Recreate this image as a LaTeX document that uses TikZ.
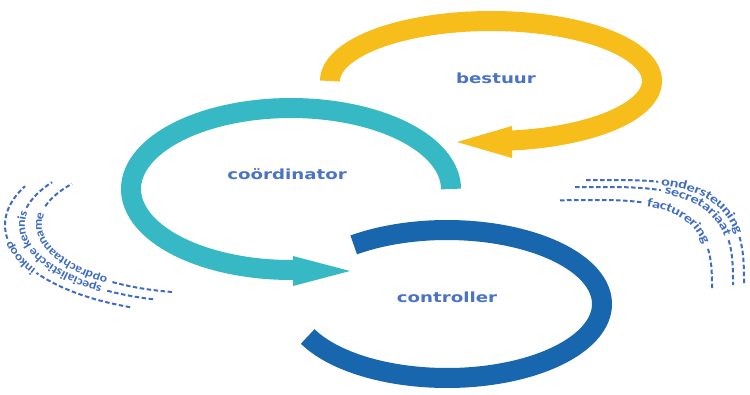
\documentclass[tikz,border=0pt]{standalone}
\usepackage{fontspec}
\usetikzlibrary{decorations.text}
\newfontfamily\lblfont[FakeStretch=1.3]{DejaVu Sans}
\newfontfamily\rlab[FakeStretch=1.3]{Carlito}
\newfontfamily\llab[FakeStretch=1.15]{Carlito}
\definecolor{ringyellow}{HTML}{F6BD1B}
\definecolor{ringteal}{HTML}{36B9C5}
\definecolor{ringblue}{HTML}{1766AE}
\definecolor{txtblue}{HTML}{4A72C6}
\definecolor{dashblue}{HTML}{3F6CC2}
\def\spow#1{sign(#1)*pow(abs(#1)+0.00001,0.6667)}
\begin{document}
\begin{tikzpicture}[x=1pt,y=-1pt,
  ring/.style={line width=20pt},
  dashline/.style={dashblue, line width=2pt, dash pattern=on 4.5pt off 2.5pt},
  ringlabel/.style={text=txtblue, font=\lblfont\bfseries\fontsize{14}{16}\selectfont, anchor=base, inner sep=0pt},
  ]
\useasboundingbox (0,0) rectangle (750,394);

% yellow ring (bestuur)
\draw[ring, ringyellow] plot[domain=180:443, samples=120, variable=\t] ({491+161*cos(\t)},{81+60*sin(\t)});
\fill[ringyellow] (512,126) -- (457,142) -- (512,158) -- cycle;

% teal ring (coordinator)
\draw[ring, ringteal] plot[domain=0:-271.4, samples=120, variable=\t] ({291+160*cos(\t)},{189+81*sin(\t)});
\fill[ringteal] (293,256) -- (350,271) -- (293,286) -- cycle;

% blue ring (controller)
\draw[ring, ringblue] plot[domain=233:514, samples=140, variable=\t] ({447+155*cos(\t)},{304+74*sin(\t)});

% labels
\node[ringlabel] (bestuur) at (496,83) {bestuur};
\node[ringlabel] (coordinator) at (287,179) {coördinator};
\node[ringlabel] (controller) at (447,302) {controller};

% left dashed arcs
% inner
\draw[dashline] plot[domain=100:123, samples=30, variable=\t] ({200+161*cos(\t)},{225+68*sin(\t)});
\path[decorate, decoration={text along path, text align=center, raise=-3pt,
  text={|\llab\bfseries\fontsize{12}{14}\selectfont\color{dashblue}|opdrachtaanname}}]
  plot[domain=121:198, samples=60, variable=\t] ({200+161*cos(\t)},{225+68*sin(\t)});
\draw[dashline] plot[domain=196:217.3, samples=30, variable=\t] ({200+161*cos(\t)},{225+68*sin(\t)});
% middle
\draw[dashline] plot[domain=105.3:122, samples=30, variable=\t] ({200+178*cos(\t)},{225+77*sin(\t)});
\path[decorate, decoration={text along path, text align=center, raise=-3pt,
  text={|\llab\bfseries\fontsize{12}{14}\selectfont\color{dashblue}|specialistische kennis}}]
  plot[domain=121:195, samples=60, variable=\t] ({200+178*cos(\t)},{225+77*sin(\t)});
\draw[dashline] plot[domain=193:213.8, samples=30, variable=\t] ({200+178*cos(\t)},{225+77*sin(\t)});
% outer
\draw[dashline] plot[domain=111:147, samples=40, variable=\t] ({200+195*cos(\t)},{225+88*sin(\t)});
\path[decorate, decoration={text along path, text align=center, raise=-3pt,
  text={|\llab\bfseries\fontsize{12}{14}\selectfont\color{dashblue}|inkoop}}]
  plot[domain=146:172, samples=30, variable=\t] ({200+195*cos(\t)},{225+88*sin(\t)});
\draw[dashline] plot[domain=171:206.2, samples=30, variable=\t] ({200+195*cos(\t)},{225+88*sin(\t)});

% right dashed arcs
% inner
\draw[dashline] plot[domain=-97:-74, samples=30, variable=\t] ({590+122*\spow{cos(\t)}},{290+90*\spow{sin(\t)}});
\path[decorate, decoration={text along path, text align=center, raise=-3pt,
  text={|\rlab\bfseries\fontsize{12.5}{15}\selectfont\color{dashblue}|facturering}}]
  plot[domain=-75:-17, samples=60, variable=\t] ({590+122*\spow{cos(\t)}},{290+90*\spow{sin(\t)}});
\draw[dashline] plot[domain=-18:0, samples=30, variable=\t] ({590+122*\spow{cos(\t)}},{290+90*\spow{sin(\t)}});
% middle
\draw[dashline] plot[domain=-94.6:-72, samples=30, variable=\t] ({600+133*\spow{cos(\t)}},{285+98*\spow{sin(\t)}});
\path[decorate, decoration={text along path, text align=center, raise=-3pt,
  text={|\rlab\bfseries\fontsize{12.5}{15}\selectfont\color{dashblue}|secretariaat}}]
  plot[domain=-73:-17, samples=60, variable=\t] ({600+133*\spow{cos(\t)}},{285+98*\spow{sin(\t)}});
\draw[dashline] plot[domain=-18:0, samples=30, variable=\t] ({600+133*\spow{cos(\t)}},{285+98*\spow{sin(\t)}});
% outer
\draw[dashline] plot[domain=-93.6:-77, samples=30, variable=\t] ({608+136*\spow{cos(\t)}},{285+105*\spow{sin(\t)}});
\path[decorate, decoration={text along path, text align=center, raise=-3pt,
  text={|\rlab\bfseries\fontsize{12.5}{15}\selectfont\color{dashblue}|ondersteuning}}]
  plot[domain=-78:-17, samples=60, variable=\t] ({608+136*\spow{cos(\t)}},{285+105*\spow{sin(\t)}});
\draw[dashline] plot[domain=-18:0, samples=30, variable=\t] ({608+136*\spow{cos(\t)}},{285+105*\spow{sin(\t)}});
\end{tikzpicture}
\end{document}
